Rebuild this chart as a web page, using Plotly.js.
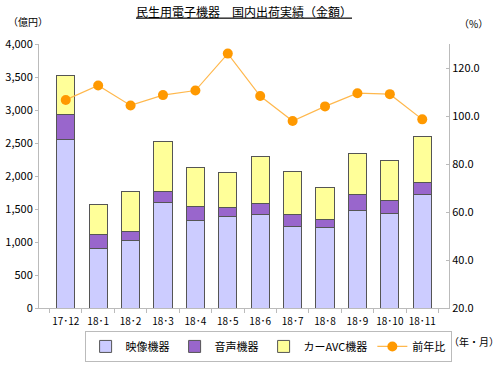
<!DOCTYPE html>
<html><head><meta charset="utf-8">
<script src="https://cdn.plot.ly/plotly-3.0.1.min.js"></script>
<style>html,body{margin:0;padding:0;background:#fff}</style>
</head><body>
<div id="chart" style="width:503px;height:371px"></div>
<script>
const categories = ["17･12","18･1","18･2","18･3","18･4","18･5","18･6","18･7","18･8","18･9","18･10","18･11"];
const videoValues = [2550, 900, 1020, 1595, 1325, 1380, 1420, 1240, 1225, 1480, 1435, 1720];
const audioValues = [385, 210, 143, 166, 216, 146, 156, 170, 110, 242, 196, 183];
const carValues = [585, 465, 598, 762, 583, 528, 720, 653, 494, 613, 605, 700];
const yoyValues = [106.7, 112.7, 104.4, 108.7, 110.6, 126.0, 108.3, 97.9, 104.0, 109.5, 109.1, 98.6];
const leftTicks = [0, 500, 1000, 1500, 2000, 2500, 3000, 3500, 4000];
const rightTicks = [20, 40, 60, 80, 100, 120];

const fontFam = '"Noto Sans CJK JP", "Noto Sans", sans-serif';
const barLine = {color: '#555555', width: 1};
const traces = [
  {type:'bar', name:'映像機器', x:categories, y:videoValues, marker:{color:'#CCCCFF', line:barLine}, width:0.56},
  {type:'bar', name:'音声機器', x:categories, y:audioValues, marker:{color:'#9966CC', line:barLine}, width:0.56},
  {type:'bar', name:'カーAVC機器', x:categories, y:carValues, marker:{color:'#FFFF99', line:barLine}, width:0.56},
  {type:'scatter', mode:'lines+markers', name:'前年比', x:categories, y:yoyValues, yaxis:'y2',
   line:{color:'#FFB84D', width:1.2}, marker:{color:'#FF9900', size:10}}
];
const layout = {
  width:503, height:371,
  margin:{l:39, r:54, t:44, b:63},
  paper_bgcolor:'#fff', plot_bgcolor:'#fff',
  font:{family:fontFam, size:11, color:'#000'},
  barmode:'stack', bargap:0.44,
  showlegend:true,
  title:{text:'民生用電子機器　国内出荷実績（金額）', x:0.5, xref:'paper', y:0.978, yref:'container',
         font:{size:12, family:fontFam, color:'#000', lineposition:'under'}},
  xaxis:{type:'category', showline:true, linecolor:'#BBBBBB', ticks:'outside', tickson:'boundaries', ticklen:4,
         tickcolor:'#BBBBBB', tickfont:{size:10}, tickangle:0, ticklabelstandoff:4, showgrid:false, fixedrange:true, automargin:false},
  yaxis:{range:[0,4000], tickvals:leftTicks, tickformat:',', showline:true, linecolor:'#BBBBBB', ticks:'outside',
         ticklen:3, tickcolor:'#BBBBBB', showgrid:false, zeroline:false, tickfont:{size:11}, automargin:false},
  yaxis2:{range:[20,130], tickvals:rightTicks, tickformat:'.1f', overlaying:'y', side:'right', showline:true,
          linecolor:'#BBBBBB', ticks:'inside', ticklen:3, tickcolor:'#BBBBBB', showgrid:false, zeroline:false,
          tickfont:{size:11}, automargin:false},
  legend:{orientation:'h', x:0.533, xanchor:'center', y:0.108, yanchor:'top', xref:'container', yref:'container',
          traceorder:'normal', bordercolor:'#BBBBBB', borderwidth:1, font:{size:11}, itemwidth:30,
          bgcolor:'rgba(0,0,0,0)', tracegroupgap:0},
  annotations:[
    {text:'（億円）', xref:'paper', yref:'paper', x:-0.08, y:1.05, xanchor:'left', yanchor:'bottom', showarrow:false, font:{size:10}},
    {text:'（%）', x:1.02, y:1.04, xref:'paper', yref:'paper', showarrow:false, xanchor:'left', yanchor:'bottom', font:{size:10}},
    {text:'（年・月）', xref:'paper', yref:'paper', x:0.995, y:-0.125, xanchor:'left', yanchor:'middle', showarrow:false, font:{size:10}}
  ]
};
Plotly.newPlot('chart', traces, layout, {displayModeBar:false, staticPlot:true});
</script>
</body></html>
